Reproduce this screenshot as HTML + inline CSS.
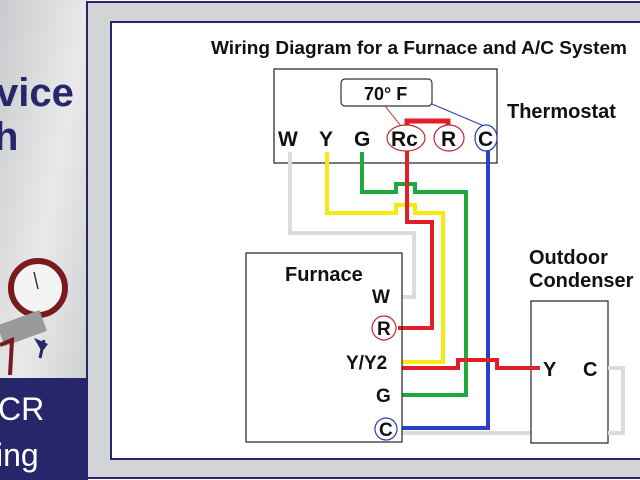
<!DOCTYPE html>
<html><head><style>
html,body{margin:0;padding:0;background:#fff;}
svg{display:block;}
text{font-family:"Liberation Sans",Arial,sans-serif;font-weight:bold;}
</style></head><body>
<svg width="640" height="480" viewBox="0 0 640 480" xmlns="http://www.w3.org/2000/svg">
<defs>
<linearGradient id="lg" x1="0" y1="0" x2="1" y2="1">
<stop offset="0" stop-color="#c9cacd"/><stop offset="0.5" stop-color="#e9e9ea"/><stop offset="1" stop-color="#c8c9cc"/>
</linearGradient>
</defs>
<rect x="0" y="0" width="88" height="480" fill="url(#lg)"/>
<text x="-4" y="106" font-size="40" fill="#27266a">vice</text>
<text x="-6" y="150" font-size="40" fill="#27266a">h</text>
<path d="M-10 235 a18 30 0 0 1 0 40" stroke="#27266a" stroke-width="8" fill="none"/>
<circle cx="38" cy="288" r="27" fill="#f4f4f4" stroke="#7a1a1e" stroke-width="6"/>
<line x1="34" y1="272" x2="38" y2="289" stroke="#333" stroke-width="1.5"/>
<rect x="0" y="318" width="45" height="22" fill="#9a9a9a" transform="rotate(-20 20 330)"/>
<path d="M0 345 L12 340 L10 375" stroke="#7a1a1e" stroke-width="4" fill="none"/>
<path d="M34 338 l14 6 l-6 8z" fill="#27266a"/>
<line x1="44" y1="340" x2="40" y2="358" stroke="#27266a" stroke-width="3"/>
<rect x="0" y="378" width="88" height="102" fill="#27266a"/>
<text x="-2" y="420" font-size="32" style="font-weight:normal" fill="#fff">CR</text>
<text x="-4" y="466" font-size="32" style="font-weight:normal" fill="#fff">ing</text>
<rect x="87" y="2" width="560" height="476" fill="#d3d4d6" stroke="#27266a" stroke-width="2"/>
<rect x="111" y="22" width="540" height="437" fill="#fff" stroke="#27266a" stroke-width="2"/>
<text x="211" y="54" font-size="18" fill="#111" textLength="416" lengthAdjust="spacingAndGlyphs">Wiring Diagram for a Furnace and A/C System</text>
<rect x="274" y="69" width="223" height="94" fill="#fff" stroke="#222" stroke-width="1.2"/>
<rect x="341" y="79" width="91" height="27" rx="4" fill="#fff" stroke="#333" stroke-width="1.2"/>
<text x="364" y="100" font-size="18" fill="#111">70° F</text>
<line x1="385" y1="106" x2="401" y2="126" stroke="#b03030" stroke-width="1"/>
<line x1="432" y1="104" x2="484" y2="126" stroke="#2a3fb0" stroke-width="1"/>
<text x="507" y="118" font-size="20" fill="#111">Thermostat</text>
<path d="M407 128 V121 H448 V128" stroke="#e01f26" stroke-width="5" fill="none"/>
<g fill="none" stroke-width="4">
<path d="M290 152 V233 H414 V297 H402" stroke="#dcdcdc"/>
<path d="M327 152 V213 H396 V205 H415 V213 H443 V362 H402" stroke="#f5ea12"/>
<path d="M362 152 V192 H396 V184 H415 V192 H466 V395 H402" stroke="#1fa740"/>
<path d="M407 150 V222 H432 V328 H398" stroke="#e01f26"/>
<path d="M488 150 V428 H402" stroke="#2c3fc6"/>
<path d="M402 368 H458 V360 H497 V368 H540" stroke="#e01f26"/>
<path d="M601 368 H623 V433 H402" stroke="#dcdcdc"/>
</g>
<text x="278" y="146" font-size="21" fill="#111">W</text>
<text x="319" y="146" font-size="21" fill="#111">Y</text>
<text x="354" y="146" font-size="21" fill="#111">G</text>
<ellipse cx="406" cy="138" rx="19" ry="13" fill="#fff" stroke="#c0282d" stroke-width="1.2"/>
<text x="391" y="146" font-size="21" fill="#111">Rc</text>
<ellipse cx="449" cy="138" rx="15" ry="13" fill="#fff" stroke="#c0282d" stroke-width="1.2"/>
<text x="441" y="146" font-size="21" fill="#111">R</text>
<ellipse cx="486" cy="138" rx="11" ry="13" fill="#fff" stroke="#2a3fb0" stroke-width="1.2"/>
<text x="478" y="146" font-size="21" fill="#111">C</text>
<rect x="246" y="253" width="156" height="189" fill="none" stroke="#222" stroke-width="1.2"/>
<text x="285" y="281" font-size="20" fill="#111">Furnace</text>
<text x="372" y="303" font-size="19" fill="#111">W</text>
<circle cx="384" cy="328" r="12" fill="#fff" stroke="#c0282d" stroke-width="1.2"/>
<text x="377" y="335" font-size="19" fill="#111">R</text>
<text x="346" y="369" font-size="19" fill="#111">Y/Y2</text>
<text x="376" y="402" font-size="19" fill="#111">G</text>
<circle cx="386" cy="429" r="11" fill="#fff" stroke="#2a3fb0" stroke-width="1.2"/>
<text x="379" y="436" font-size="19" fill="#111">C</text>
<text x="529" y="264" font-size="20" fill="#111">Outdoor</text>
<text x="529" y="287" font-size="20" fill="#111">Condenser</text>
<rect x="531" y="301" width="77" height="142" fill="#fff" stroke="#222" stroke-width="1.2"/>
<line x1="527" y1="368" x2="540" y2="368" stroke="#e01f26" stroke-width="4"/>
<text x="543" y="376" font-size="20" fill="#111">Y</text>
<text x="583" y="376" font-size="20" fill="#111">C</text>
<line x1="608" y1="368" x2="623" y2="368" stroke="#dcdcdc" stroke-width="4"/>
<line x1="608" y1="433" x2="623" y2="433" stroke="#dcdcdc" stroke-width="4"/>
</svg>
</body></html>
